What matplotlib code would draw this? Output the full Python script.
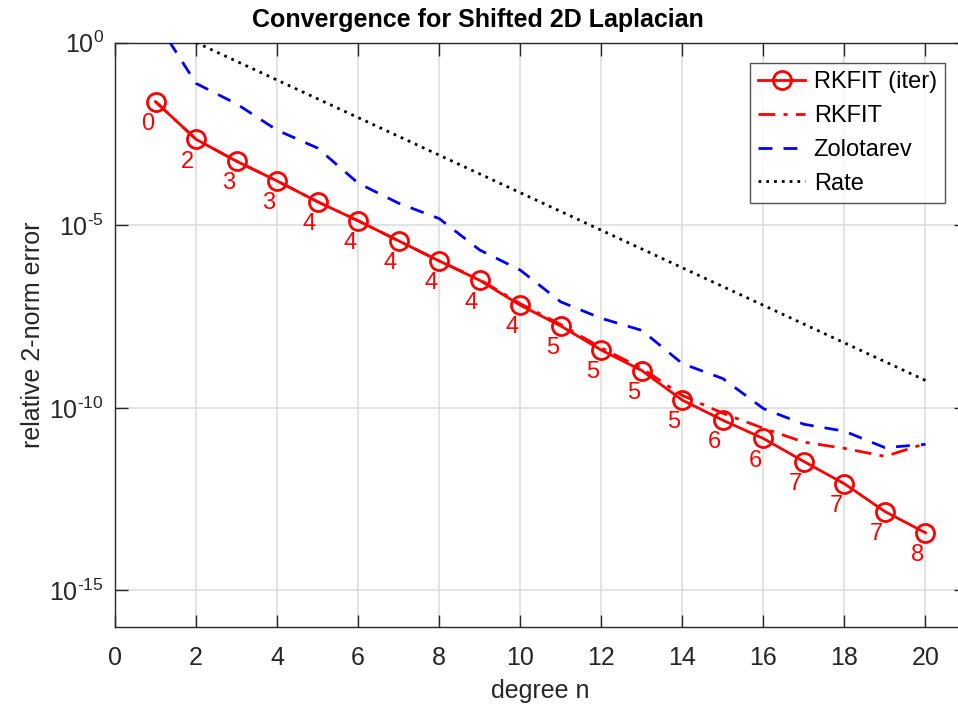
import numpy as np
import matplotlib
matplotlib.use("Agg")
import matplotlib.pyplot as plt
from matplotlib.ticker import FixedLocator, FuncFormatter

plt.rcParams['font.family'] = ['Liberation Sans', 'DejaVu Sans']
plt.rcParams['mathtext.fontset'] = 'custom'
plt.rcParams['mathtext.rm'] = 'Liberation Sans'

# --- data (log10 of the relative error) ---
degree = np.arange(1, 21)
rkfit_iter_log = [-1.62, -2.65, -3.25, -3.79, -4.36, -4.88, -5.43, -5.98, -6.51, -7.19,
                  -7.76, -8.42, -8.98, -9.79, -10.34, -10.84, -11.47, -12.08, -12.84, -13.42]
rkfit_log = [-1.62, -2.65, -3.25, -3.79, -4.36, -4.88, -5.43, -5.98, -6.49, -7.15,
             -7.72, -8.36, -8.92, -9.66, -10.15, -10.56, -10.94, -11.11, -11.33, -10.98]
zolo_log = [0.62, -1.12, -1.68, -2.40, -2.89, -3.85, -4.40, -4.82, -5.68, -6.23,
            -7.10, -7.55, -7.88, -8.79, -9.20, -10.02, -10.45, -10.64, -11.09, -11.00]
rate_x = [2, 20]
rate_log = [0.0, -9.25]
iter_labels = ['0', '2', '3', '3', '4', '4', '4', '4', '4', '4',
               '5', '5', '5', '5', '6', '6', '7', '7', '7', '8']

rkfit_iter = 10.0 ** np.array(rkfit_iter_log)
rkfit = 10.0 ** np.array(rkfit_log)
zolo = 10.0 ** np.array(zolo_log)
rate = 10.0 ** np.array(rate_log)

fig = plt.figure(figsize=(9.58, 7.11), dpi=100)
ax = fig.add_axes([115 / 958, 84 / 711, 851 / 958, 584.5 / 711])

ax.semilogy(degree, rkfit_iter, '-', color='red', lw=2.0, marker='o', ms=13,
            mfc='none', mew=2.0, label='RKFIT (iter)', zorder=5)
ax.semilogy(degree, rkfit, '-.', color='red', lw=2.0, label='RKFIT',
            dashes=(6, 3, 1.5, 3), zorder=4)
ax.semilogy(degree, zolo, '--', color='blue', lw=2.0, label='Zolotarev',
            dashes=(5, 4), zorder=3)
ax.semilogy(rate_x, rate, ':', color='black', lw=2.0, label='Rate',
            dashes=(1, 1.8), zorder=3)

# iteration counts under each marker
for xi, yi, lab in zip(degree, rkfit_iter, iter_labels):
    ax.annotate(lab, (xi, yi), xytext=(-6, -16), textcoords='offset points',
                ha='center', va='center', color='red', fontsize=17)

ax.set_xlim(0, 21)
ax.set_ylim(1e-16, 1e0)
ax.xaxis.set_major_locator(FixedLocator(np.arange(0, 21, 2)))
ax.yaxis.set_major_locator(FixedLocator([1e0, 1e-5, 1e-10, 1e-15]))
ax.yaxis.set_minor_locator(FixedLocator([]))


def sci_label(v, pos):
    e = int(round(np.log10(v)))
    sup = str(e) if e >= 0 else r'\text{-}' + str(-e)
    return r'$\mathregular{10^{%s}}$' % sup


ax.yaxis.set_major_formatter(FuncFormatter(sci_label))

edge = '#262626'
for s in ax.spines.values():
    s.set_color(edge)
    s.set_linewidth(1.0)
ax.tick_params(direction='in', length=9, width=1.0, colors=edge, labelsize=18,
               top=True, right=True)
ax.tick_params(axis='x', pad=14)
ax.tick_params(axis='y', pad=8)
ax.tick_params(axis='y', which='minor', length=0)
ax.grid(True, color='#dedede', lw=1.2)
ax.set_axisbelow(True)

ax.set_xlabel('degree n', fontsize=18, color=edge, labelpad=6)
ax.set_ylabel('relative 2-norm error', fontsize=18, color=edge, labelpad=3)
ax.set_title('Convergence for Shifted 2D Laplacian', fontsize=18, fontweight='bold',
             pad=11, x=(478 - 115) / 851)

leg = ax.legend(loc='upper left', bbox_to_anchor=(750 / 958, 1 - 63 / 711),
                bbox_transform=fig.transFigure,
                fontsize=17, frameon=True, fancybox=False, handlelength=2.0,
                borderpad=0.35, labelspacing=0.5, handletextpad=0.35, borderaxespad=0)
leg.get_frame().set_edgecolor(edge)
leg.get_frame().set_linewidth(1.0)

fig.savefig('out.png', dpi=100)
